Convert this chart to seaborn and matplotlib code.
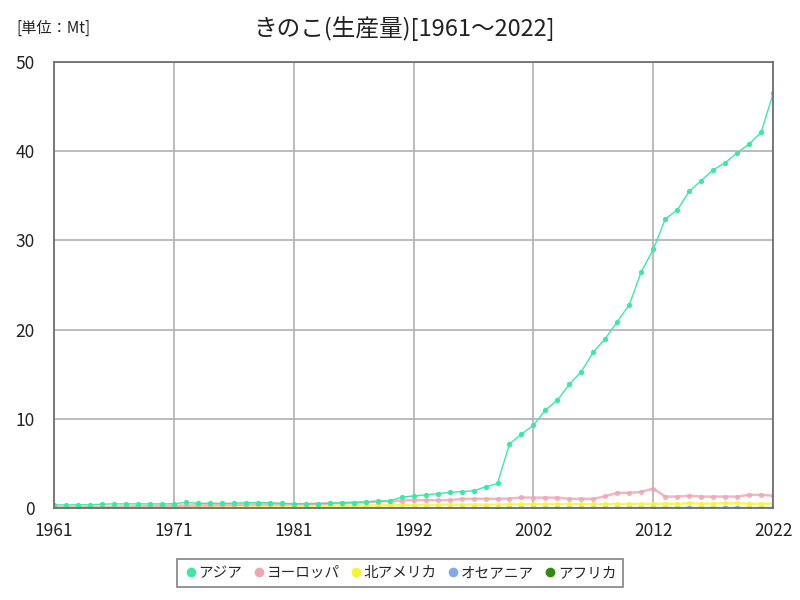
import numpy as np
import pandas as pd
import matplotlib
matplotlib.use("Agg")
import matplotlib.pyplot as plt
import seaborn as sns

# ---- data (Mt) ----
tick_labels = ["1961", "1971", "1981", "1992", "2002", "2012", "2022"]
tick_index = [0, 10, 20, 30, 40, 50, 60]

asia = [0.37, 0.37, 0.38, 0.38, 0.45, 0.48, 0.48, 0.48, 0.48, 0.48,
        0.5, 0.65, 0.55, 0.55, 0.55, 0.55, 0.62, 0.62, 0.62, 0.55,
        0.5, 0.5, 0.5, 0.55, 0.6, 0.62, 0.7, 0.78, 0.82, 1.23,
        1.38, 1.49, 1.64, 1.76, 1.87, 1.94, 2.39, 2.77, 7.2, 8.3,
        9.3, 11.0, 12.1, 13.9, 15.3, 17.5, 19.0, 20.9, 22.8, 26.5,
        29.0, 32.4, 33.4, 35.5, 36.7, 37.9, 38.7, 39.8, 40.8, 42.1,
        46.5]
europe = [0.10, 0.11, 0.12, 0.13, 0.15, 0.17, 0.19, 0.21, 0.23, 0.25,
          0.28, 0.30, 0.32, 0.34, 0.36, 0.38, 0.40, 0.42, 0.44, 0.45,
          0.45, 0.47, 0.50, 0.55, 0.60, 0.63, 0.66, 0.75, 0.80, 0.85,
          0.90, 0.90, 0.90, 0.90, 1.05, 1.05, 1.05, 1.05, 1.08, 1.20,
          1.18, 1.18, 1.18, 1.05, 1.05, 1.05, 1.35, 1.72, 1.72, 1.83,
          2.20, 1.30, 1.30, 1.40, 1.30, 1.30, 1.30, 1.30, 1.50, 1.50,
          1.40]
north_america = [0.05, 0.05, 0.06, 0.06, 0.07, 0.07, 0.08, 0.08, 0.09, 0.09,
                 0.10, 0.11, 0.12, 0.13, 0.14, 0.15, 0.17, 0.19, 0.21, 0.23,
                 0.25, 0.26, 0.27, 0.28, 0.29, 0.30, 0.30, 0.32, 0.33, 0.34,
                 0.35, 0.36, 0.37, 0.38, 0.40, 0.40, 0.40, 0.40, 0.42, 0.42,
                 0.44, 0.45, 0.45, 0.45, 0.45, 0.45, 0.45, 0.45, 0.46, 0.46,
                 0.48, 0.50, 0.50, 0.55, 0.50, 0.52, 0.55, 0.55, 0.50, 0.50,
                 0.50]
oceania = [0.01, 0.01, 0.01, 0.01, 0.01, 0.01, 0.01, 0.01, 0.01, 0.01,
           0.01, 0.01, 0.01, 0.01, 0.01, 0.02, 0.02, 0.02, 0.02, 0.02,
           0.02, 0.02, 0.02, 0.02, 0.03, 0.03, 0.03, 0.03, 0.03, 0.03,
           0.04, 0.04, 0.04, 0.04, 0.04, 0.04, 0.05, 0.05, 0.05, 0.05,
           0.05, 0.05, 0.05, 0.05, 0.05, 0.05, 0.05, 0.05, 0.06, 0.06,
           0.06, 0.06, 0.06, 0.06, 0.06, 0.06, 0.06, 0.06, 0.06, 0.06,
           0.06]
africa = [0.005, 0.005, 0.005, 0.005, 0.005, 0.005, 0.005, 0.005, 0.005, 0.005,
          0.005, 0.005, 0.005, 0.005, 0.005, 0.005, 0.005, 0.005, 0.005, 0.005,
          0.006, 0.006, 0.006, 0.006, 0.007, 0.007, 0.007, 0.008, 0.008, 0.008,
          0.009, 0.009, 0.009, 0.010, 0.010, 0.010, 0.011, 0.011, 0.012, 0.012,
          0.012, 0.013, 0.013, 0.013, 0.014, 0.014, 0.015, 0.015, 0.015, 0.016,
          0.016, 0.017, 0.017, 0.017, 0.018, 0.018, 0.018, 0.019, 0.019, 0.020,
          0.020]

series_names = ["アジア", "ヨーロッパ", "北アメリカ", "オセアニア", "アフリカ"]
series_values = [asia, europe, north_america, oceania, africa]
colors = ["#3ee8a4", "#f0a4b4", "#f4f43c", "#80aaea", "#2e8a10"]

rows = []
for name, vals in zip(series_names, series_values):
    for i, v in enumerate(vals):
        rows.append({"idx": i, "value": v, "region": name})
df = pd.DataFrame(rows)

sns.set_theme(style="white")
plt.rcParams["font.family"] = ["Noto Sans CJK JP", "DejaVu Sans"]

fig = plt.figure(figsize=(8, 6), dpi=100)
ax = fig.add_axes([0.0675, 0.153, 0.899, 0.744])

# draw in reverse so Asia is on top
for name, col, lw, alpha in reversed(list(zip(series_names, colors,
                                                [1.0, 1.8, 1.8, 1.2, 1.2],
                                                [1.0, 0.8, 0.8, 1.0, 1.0]))):
    sub = df[df["region"] == name]
    sns.lineplot(data=sub, x="idx", y="value", ax=ax, color=col, lw=lw,
                 alpha=alpha, marker="o", markersize=3.8, markeredgewidth=0,
                 label=name, legend=False)

ax.set_xlim(0, 60)
ax.set_ylim(0, 50)
ax.set_xticks(tick_index)
ax.set_xticklabels(tick_labels)
ax.set_yticks([0, 10, 20, 30, 40, 50])
ax.grid(True, color="#b0b0b0", lw=1.2)
ax.set_axisbelow(True)
for s in ax.spines.values():
    s.set_color("#707070")
    s.set_linewidth(1.3)
ax.tick_params(axis="both", labelsize=12.5, colors="#222222", length=0)
ax.tick_params(axis="y", pad=14)
ax.tick_params(axis="x", pad=10)
ax.set_xlabel("")
ax.set_ylabel("")

fig.text(0.505, 0.953, "きのこ(生産量)[1961～2022]", ha="center", va="center",
         fontsize=17, color="#222222")
fig.text(0.02, 0.953, "[単位：Mt]", ha="left", va="center",
         fontsize=11, color="#222222")

handles = [plt.Line2D([], [], ls="", marker="o", markersize=7,
                      markerfacecolor=c, markeredgewidth=0) for c in colors]
leg = fig.legend(handles, series_names, loc="center", bbox_to_anchor=(0.5, 0.045),
                 ncol=5, frameon=True, fontsize=10.5, handletextpad=0.05,
                 columnspacing=0.6, handlelength=1.0, borderpad=0.45,
                 fancybox=False)
leg.get_frame().set_edgecolor("#707070")
leg.get_frame().set_linewidth(1.3)

fig.savefig("out.png", dpi=100)
